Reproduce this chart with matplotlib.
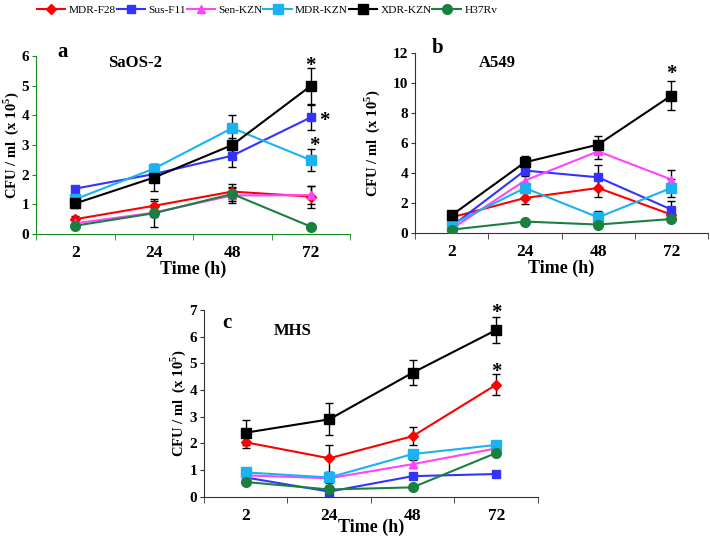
import numpy as np
import matplotlib
matplotlib.use('Agg')
import matplotlib.pyplot as plt
from matplotlib.lines import Line2D

plt.rcParams['font.family'] = ['Liberation Serif', 'DejaVu Serif']
plt.rcParams['mathtext.fontset'] = 'custom'
plt.rcParams['mathtext.rm'] = 'Liberation Serif'
plt.rcParams['mathtext.bf'] = 'Liberation Serif:bold'

times = ['2', '24', '48', '72']
strains = ['MDR-F28', 'Sus-F11', 'Sen-KZN', 'MDR-KZN', 'XDR-KZN', 'H37Rv']
colors = ['#ff0000', '#3333ff', '#ff44ff', '#1ab2f0', '#000000', '#1a8040']
markers = ['D', 's', '^', 's', 's', 'o']
msizes = [5, 6, 6, 7, 7, 7]

# panel a - SaOS-2
saos_mean = [[0.50, 0.95, 1.43, 1.26],
             [1.53, 2.02, 2.64, 3.93],
             [0.36, 0.72, 1.30, 1.31],
             [1.17, 2.20, 3.57, 2.49],
             [1.03, 1.90, 3.00, 4.99],
             [0.28, 0.70, 1.35, 0.25]]
saos_err = [[0.12, 0.15, 0.25, 0.37],
            [0.10, 0.10, 0.37, 0.41],
            [0.08, 0.47, 0.25, 0.30],
            [0.10, 0.15, 0.43, 0.37],
            [0.15, 0.45, 0.25, 0.60],
            [0.05, 0.10, 0.25, 0.05]]
# panel b - A549
a549_mean = [[1.04, 2.33, 3.00, 1.22],
             [0.45, 4.16, 3.71, 1.56],
             [0.27, 3.49, 5.44, 3.56],
             [0.56, 3.00, 1.04, 3.00],
             [1.18, 4.71, 5.89, 9.16],
             [0.22, 0.76, 0.56, 0.93]]
a549_err = [[0.10, 0.40, 0.60, 0.30],
            [0.10, 0.20, 0.80, 0.60],
            [0.10, 0.30, 0.50, 0.65],
            [0.10, 0.35, 0.40, 0.60],
            [0.10, 0.45, 0.60, 0.95],
            [0.05, 0.10, 0.10, 0.10]]
# panel c - MHS
mhs_mean = [[2.04, 1.44, 2.27, 4.20],
            [0.72, 0.19, 0.77, 0.85],
            [0.80, 0.69, 1.22, 1.81],
            [0.91, 0.72, 1.60, 1.94],
            [2.40, 2.90, 4.65, 6.25],
            [0.55, 0.27, 0.35, 1.64]]
mhs_err = [[0.22, 0.50, 0.33, 0.40],
           [0.05, 0.05, 0.05, 0.05],
           [0.05, 0.05, 0.15, 0.05],
           [0.15, 0.20, 0.10, 0.15],
           [0.47, 0.60, 0.47, 0.48],
           [0.05, 0.05, 0.05, 0.10]]

fig = plt.figure(figsize=(7.1, 5.38), dpi=100)
ax_a = fig.add_axes([0.0507, 0.565, 0.4423, 0.331])
ax_b = fig.add_axes([0.5845, 0.567, 0.4127, 0.3346])
ax_c = fig.add_axes([0.2873, 0.0768, 0.4704, 0.347])

x = np.arange(len(times))


def draw(ax, means, errs, ymax, ystep, axcol, ylab_x, xlab_pad):
    for i in range(len(strains)):
        ax.errorbar(x, means[i], yerr=errs[i], fmt='none', ecolor='black',
                    elinewidth=1, capsize=3, capthick=1, zorder=2)
        ax.plot(x, means[i], color=colors[i], marker=markers[i],
                markersize=msizes[i], lw=1.5, zorder=3)
    ax.set_xlim(-0.5, 3.5)
    ax.set_ylim(0, ymax)
    ax.set_yticks(np.arange(0, ymax + 0.1, ystep))
    ax.set_xticks(x)
    ax.set_xticklabels(times)
    ax.set_xticks([-0.5, 0.5, 1.5, 2.5, 3.5], minor=True)
    ax.tick_params(axis='x', which='major', length=0, pad=8)
    ax.tick_params(axis='x', which='minor', length=4, direction='out', color=axcol)
    ax.tick_params(axis='y', length=3, direction='out', color=axcol, pad=2)
    for lab in ax.get_xticklabels():
        lab.set_fontsize(12.5)
        lab.set_fontweight('bold')
    for lab in ax.get_yticklabels():
        lab.set_fontsize(11)
        lab.set_fontweight('bold')
    for s in ['top', 'right']:
        ax.spines[s].set_visible(False)
    for s in ['left', 'bottom']:
        ax.spines[s].set_color(axcol)
    ax.set_xlabel('Time (h)', fontsize=13, fontweight='bold', labelpad=xlab_pad)
    ax.set_ylabel(r'CFU / ml  (x 10$^{\mathbf{5}}$)', fontsize=10.5,
                  fontweight='bold')
    ax.yaxis.set_label_coords(ylab_x, 0.5)


draw(ax_a, saos_mean, saos_err, 6, 1, '#1a8a1a', -0.048, 0)
draw(ax_b, a549_mean, a549_err, 12, 2, '#333333', -0.112, 0)
draw(ax_c, mhs_mean, mhs_err, 7, 1, '#333333', -0.047, -4)

ax_a.text(0.067, 1.02, 'a', transform=ax_a.transAxes, fontsize=15, fontweight='bold', va='center')
ax_a.text(0.315, 0.96, 'SaOS-2', transform=ax_a.transAxes, fontsize=12, fontweight='bold',
          va='center', ha='center')
ax_b.text(0.058, 1.03, 'b', transform=ax_b.transAxes, fontsize=15, fontweight='bold', va='center')
ax_b.text(0.28, 0.944, 'A549', transform=ax_b.transAxes, fontsize=12, fontweight='bold',
          va='center', ha='center')
ax_c.text(0.054, 0.93, 'c', transform=ax_c.transAxes, fontsize=15, fontweight='bold', va='center')
ax_c.text(0.267, 0.89, 'MHS', transform=ax_c.transAxes, fontsize=12, fontweight='bold',
          va='center', ha='center')

star = dict(fontsize=15, fontweight='bold', ha='center', va='center')
ax_a.text(3, 5.65, '*', **star)
ax_a.text(3.17, 3.8, '*', **star)
ax_a.text(3.05, 2.98, '*', **star)
ax_b.text(3, 10.6, '*', **star)
ax_c.text(3, 6.9, '*', **star)
ax_c.text(3, 4.67, '*', **star)

handles = [Line2D([], [], color=colors[i], marker=markers[i], markersize=msizes[i], lw=1.5)
           for i in range(len(strains))]
fig.legend(handles, strains, loc='center left', bbox_to_anchor=(0.052, 0.981), ncol=6,
           frameon=False, fontsize=8.2, handlelength=2.5, handletextpad=0.3,
           columnspacing=0.05, borderpad=0, borderaxespad=0)

fig.savefig('out.png', dpi=100)
